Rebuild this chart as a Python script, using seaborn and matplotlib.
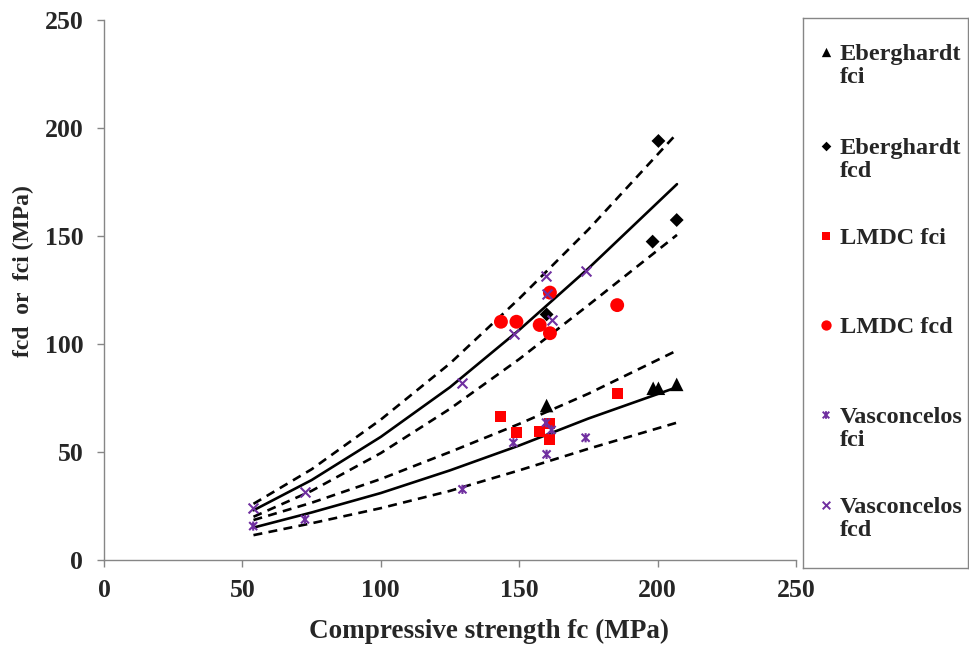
import numpy as np
import pandas as pd
import matplotlib
matplotlib.use("Agg")
import matplotlib.pyplot as plt
import seaborn as sns
from matplotlib.path import Path

# ---------------- data ----------------
eb_fci_x = [159.9, 198.4, 200.3, 206.9]
eb_fci_y = [71.5, 79.5, 79.5, 81.3]
eb_fcd_x = [159.9, 198.2, 200.3, 206.9]
eb_fcd_y = [113.7, 147.4, 194.0, 157.4]
lm_fci_x = [143.4, 149.1, 157.3, 161.1, 161.1, 185.4]
lm_fci_y = [66.3, 59.1, 59.4, 63.3, 55.9, 76.9]
lm_fcd_x = [143.4, 149.0, 157.4, 161.1, 161.1, 185.4]
lm_fcd_y = [110.3, 110.3, 108.8, 123.8, 105.0, 118.0]
va_fci_x = [53.9, 72.6, 129.5, 147.9, 159.9, 159.7, 161.7, 174.0]
va_fci_y = [15.7, 18.8, 32.7, 54.3, 48.9, 63.6, 60.2, 56.6]
va_fcd_x = [53.9, 72.6, 129.5, 148.1, 159.6, 159.9, 161.7, 174.0]
va_fcd_y = [23.9, 31.3, 82.1, 104.5, 131.5, 123.1, 111.1, 133.6]

curve_x = [54, 75, 100, 125, 150, 175, 207]
fcd_fit = [23, 37, 57, 80, 106.5, 135, 174]
fcd_up = [26, 42, 65, 91, 121, 153, 197.5]
fcd_lo = [20, 32, 49.5, 70, 93, 118, 150.5]
fci_fit = [15, 22, 31, 41.5, 53, 65.5, 80]
fci_up = [18.5, 26.5, 37.5, 50, 63, 77, 97]
fci_lo = [11.5, 17, 24, 32, 41.5, 51.5, 63.6]

x_ticks = [0, 50, 100, 150, 200, 250]
y_ticks = [0, 50, 100, 150, 200, 250]
x_label = "Compressive strength fc (MPa)"
y_label = "fcd  or  fci (MPa)"
legend_labels = ["Eberghardt\nfci", "Eberghardt\nfcd", "LMDC fci", "LMDC fcd",
                 "Vasconcelos\nfci", "Vasconcelos\nfcd"]

# ---------------- style ----------------
sns.set_theme(style="white")
plt.rcParams["font.family"] = ["Liberation Serif", "DejaVu Serif"]
plt.rcParams["font.weight"] = "bold"

W, H = 970, 646
fig = plt.figure(figsize=(W / 100, H / 100), dpi=100)
L, R, T, B = 104, 796, 20, 560
ax = fig.add_axes([L / W, (H - B) / H, (R - L) / W, (B - T) / H])

black = "#000000"
red = "#FF0000"
purple = "#7030A0"

# asterisk-like star: an x plus a vertical stroke
star = Path([(-1, -1), (1, 1), (-1, 1), (1, -1), (0, -1.15), (0, 1.15)],
            [Path.MOVETO, Path.LINETO, Path.MOVETO, Path.LINETO, Path.MOVETO, Path.LINETO])

# curves
line_kw = dict(color=black, lw=1.9, estimator=None, sort=True, ax=ax, legend=False)
dash_ls = (0, (3.4, 2.4))
sns.lineplot(x=curve_x, y=fcd_fit, **line_kw)
sns.lineplot(x=curve_x, y=fci_fit, **line_kw)
for yy in (fcd_up, fcd_lo, fci_up, fci_lo):
    sns.lineplot(x=curve_x, y=yy, linestyle=dash_ls, **line_kw)

# scatter series: x, y, marker, colour, size, kind
series = [
    (eb_fci_x, eb_fci_y, "^", black, 95, "fill"),
    (eb_fcd_x, eb_fcd_y, "D", black, 50, "fill"),
    (lm_fci_x, lm_fci_y, "s", red, 62, "fill"),
    (lm_fcd_x, lm_fcd_y, "o", red, 100, "fill"),
    (va_fci_x, va_fci_y, star, purple, 44, "path"),
    (va_fcd_x, va_fcd_y, "x", purple, 50, "line"),
]
for xs, ys, m, c, s, kind in series:
    if kind == "fill":
        sns.scatterplot(x=xs, y=ys, marker=m, color=c, s=s, linewidth=0,
                        edgecolor="none", ax=ax, legend=False, zorder=3)
    elif kind == "path":
        sns.scatterplot(x=xs, y=ys, marker=m, facecolor="none", edgecolor=c,
                        s=s, linewidth=1.5, ax=ax, legend=False, zorder=3)
    else:
        sns.scatterplot(x=xs, y=ys, marker=m, color=c, s=s, linewidth=1.5,
                        ax=ax, legend=False, zorder=3)

ax.set_xlim(0, 250)
ax.set_ylim(0, 250)
ax.set_xticks(x_ticks)
ax.set_yticks(y_ticks)
ax.set_xticklabels([str(v) for v in x_ticks], fontsize=18.5, fontweight="bold")
ax.set_yticklabels([str(v) for v in y_ticks], fontsize=18.5, fontweight="bold")
ax.tick_params(axis="x", which="major", length=5, width=1, color="#868686",
               direction="out", bottom=True, pad=9)
ax.tick_params(axis="y", which="major", length=5, width=1, color="#868686",
               direction="out", left=True, pad=10)
for side in ("top", "right"):
    ax.spines[side].set_visible(False)
for side in ("left", "bottom"):
    ax.spines[side].set_color("#868686")
    ax.spines[side].set_linewidth(1)

ax.set_xlabel(x_label, fontsize=19.5, fontweight="bold")
ax.xaxis.set_label_coords((489 - L) / (R - L), (B - 619) / (B - T))
ax.set_ylabel(y_label, fontsize=17, fontweight="bold")
ax.yaxis.set_label_coords((34 - L) / (R - L), (B - 271) / (B - T))

# ---------------- legend (separate framed box) ----------------
LX0, LX1, LY0, LY1 = 803, 968, 18, 568
lax = fig.add_axes([LX0 / W, (H - LY1) / H, (LX1 - LX0) / W, (LY1 - LY0) / H])
lax.set_xlim(0, LX1 - LX0)
lax.set_ylim(LY1 - LY0, 0)
lax.set_xticks([])
lax.set_yticks([])
for sp in lax.spines.values():
    sp.set_color("#868686")
    sp.set_linewidth(1)
entry_y = [52, 146, 236, 325, 415, 505]
leg_sizes = [45, 24, 34, 55, 30, 30]
for (xs, ys, m, c, s, kind), lab, yy, ms in zip(series, legend_labels, entry_y, leg_sizes):
    if kind == "fill":
        lax.scatter([23], [yy - LY0], marker=m, color=c, s=ms, linewidths=0, zorder=3)
    elif kind == "path":
        lax.scatter([23], [yy - LY0], marker=m, facecolor="none", edgecolor=c,
                    s=ms, linewidths=1.4, zorder=3)
    else:
        lax.scatter([23], [yy - LY0], marker=m, color=c, s=ms, linewidths=1.4, zorder=3)
    lax.text(37, yy - LY0 - 8, lab, fontsize=17.5, fontweight="bold",
             va="top", ha="left", linespacing=1.12)

fig.savefig("out.png", dpi=100)
